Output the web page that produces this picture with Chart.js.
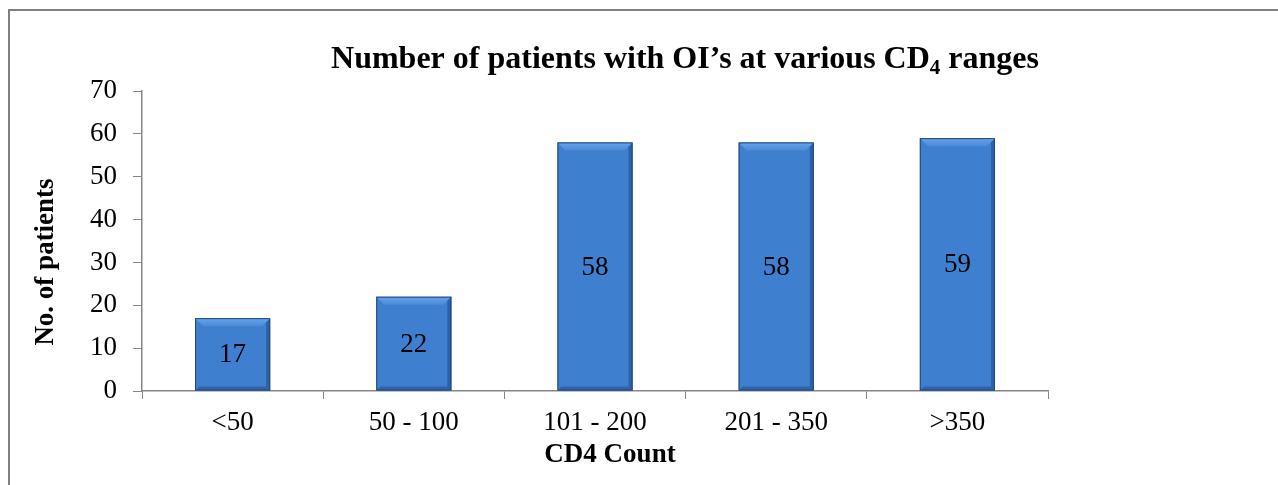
<!DOCTYPE html>
<html>

<head>
	<title>CD4 ranges</title>
	<style>
		body {
			margin: 0;
			background: #ffffff;
		}

		.frame {
			position: absolute;
			left: 8px;
			top: 9px;
			width: 1270px;
			height: 476px;
			border-left: 2px solid #808080;
			border-top: 2px solid #808080;
		}

		.wrap {
			position: absolute;
			left: 0;
			top: 0;
			width: 1278px;
			height: 485px;
		}
	</style>
</head>

<body>
	<div class="frame"></div>
	<div class="wrap">
		<canvas id="bar1" width="1278" height="485"></canvas>
	</div>

	<script src="https://cdn.jsdelivr.net/npm/chart.js@4"></script>
	<script>
		const categories = ['<50', '50 - 100', '101 - 200', '201 - 350', '>350'];
		const patients = [17, 22, 58, 58, 59];
		const yTicks = [0, 10, 20, 30, 40, 50, 60, 70];

		const serif = '"Liberation Serif", "Times New Roman", serif';

		// bevel look on each bar (light top edge, darker sides)
		const bevelPlugin = {
			id: 'bevelPlugin',
			afterDatasetsDraw(chart) {
				const c = chart.ctx;
				const meta = chart.getDatasetMeta(0);
				c.save();
				meta.data.forEach(bar => {
					const l = bar.x - bar.width / 2;
					const r = bar.x + bar.width / 2;
					const t = bar.y;
					const b = bar.base;
					const d = 8;
					// top bevel
					let g = c.createLinearGradient(0, t, 0, t + d);
					g.addColorStop(0, '#6aa4ea');
					g.addColorStop(1, '#4a8ad8');
					c.fillStyle = g;
					c.beginPath();
					c.moveTo(l, t);
					c.lineTo(r, t);
					c.lineTo(r - d, t + d);
					c.lineTo(l + d, t + d);
					c.closePath();
					c.fill();
					// right side shadow
					c.fillStyle = 'rgba(20, 50, 100, 0.4)';
					c.beginPath();
					c.moveTo(r, t);
					c.lineTo(r, b);
					c.lineTo(r - 4, b - 4);
					c.lineTo(r - 4, t + 4);
					c.closePath();
					c.fill();
					// bottom shadow
					c.fillStyle = 'rgba(20, 50, 100, 0.35)';
					c.beginPath();
					c.moveTo(l, b);
					c.lineTo(r, b);
					c.lineTo(r - 4, b - 4);
					c.lineTo(l + 4, b - 4);
					c.closePath();
					c.fill();
					// outline
					c.strokeStyle = '#1f4778';
					c.lineWidth = 1;
					c.strokeRect(l + 0.5, t + 0.5, bar.width - 1, b - t - 1);
				});
				c.restore();
			}
		};

		// title with subscript, axis titles, value labels
		const textPlugin = {
			id: 'textPlugin',
			afterDraw(chart) {
				const c = chart.ctx;
				c.save();
				c.fillStyle = '#000000';

				// chart title
				const parts = [
					['Number of patients with OI\u2019s at various CD', 'bold 32px ' + serif, 0],
					['4', 'bold 21px ' + serif, 6],
					[' ranges', 'bold 32px ' + serif, 0]
				];
				let total = 0;
				parts.forEach(p => { c.font = p[1]; total += c.measureText(p[0]).width; });
				let x = 685 - total / 2;
				c.textBaseline = 'alphabetic';
				c.textAlign = 'left';
				parts.forEach(p => {
					c.font = p[1];
					c.fillText(p[0], x, 68 + p[2]);
					x += c.measureText(p[0]).width;
				});

				// axis titles
				c.font = 'bold 27px ' + serif;
				c.textAlign = 'center';
				c.textBaseline = 'middle';
				c.fillText('CD4 Count', 610, 455);
				c.save();
				c.translate(46, 262);
				c.rotate(-Math.PI / 2);
				c.fillText('No. of patients', 0, 0);
				c.restore();

				// value labels in the middle of each bar
				c.font = '27px ' + serif;
				const meta = chart.getDatasetMeta(0);
				meta.data.forEach((bar, i) => {
					const mid = (bar.y + bar.base) / 2;
					c.fillText(String(patients[i]), bar.x, mid + 1);
				});
				c.restore();
			}
		};

		function barFill(context) {
			const bar = context.element;
			const c = context.chart.ctx;
			if (!bar || !bar.width) return '#3f7fcf';
			const l = bar.x - bar.width / 2;
			const g = c.createLinearGradient(l, 0, l + bar.width, 0);
			g.addColorStop(0, '#3a74bf');
			g.addColorStop(0.15, '#4281d2');
			g.addColorStop(0.7, '#3d7bca');
			g.addColorStop(1, '#2d5f9f');
			return g;
		}

		let ctx = document.getElementById('bar1').getContext('2d');
		let chart = new Chart(ctx, {
			type: 'bar',
			data: {
				labels: categories,
				datasets: [
					{
						label: 'No. of patients',
						data: patients,
						backgroundColor: barFill,
						borderWidth: 0,
						categoryPercentage: 1,
						barPercentage: 0.415
					}
				]
			},
			options: {
				responsive: false,
				animation: false,
				layout: {
					padding: { top: 91, right: 230, bottom: 0, left: 0 }
				},
				plugins: {
					legend: { display: false },
					tooltip: { enabled: false },
					title: { display: false }
				},
				scales: {
					x: {
						afterFit(scale) { scale.height = 94; },
						grid: {
							offset: true,
							drawOnChartArea: false,
							color: '#868686',
							tickLength: 8
						},
						border: { color: '#868686', width: 1.5 },
						ticks: {
							color: '#000000',
							padding: 8,
							font: { family: serif, size: 27 }
						}
					},
					y: {
						min: 0,
						max: 70,
						afterFit(scale) { scale.width = 142; },
						afterBuildTicks(scale) {
							scale.ticks = yTicks.map(v => ({ value: v }));
						},
						grid: {
							drawOnChartArea: false,
							color: '#868686',
							tickLength: 9
						},
						border: { color: '#868686', width: 1.5 },
						ticks: {
							color: '#000000',
							padding: 16,
							font: { family: serif, size: 27 }
						}
					}
				}
			},
			plugins: [bevelPlugin, textPlugin]
		});
	</script>
</body>

</html>
